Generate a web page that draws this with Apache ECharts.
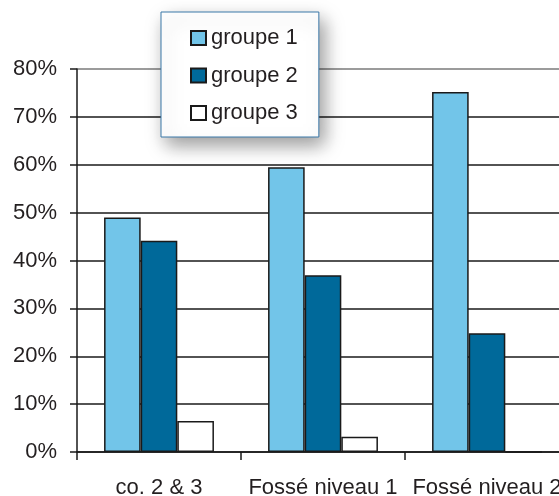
<!DOCTYPE html>
<html><head><meta charset="utf-8">
<script src="https://cdn.jsdelivr.net/npm/echarts@6/dist/echarts.min.js"></script>
<style>html,body{margin:0;padding:0;background:#fff}#c{width:559px;height:496px}</style>
</head><body><div id="c"></div>
<script>
const categories = ["co. 2 & 3", "Fossé niveau 1", "Fossé niveau 2"];
const seriesNames = ["groupe 1", "groupe 2", "groupe 3"];
const groupe1 = [49, 59.5, 75.2];
const groupe2 = [44.1, 36.9, 24.8];
const groupe3 = [6.5, 3.2, 0];
const yTicks = { min: 0, max: 80, interval: 10 };

const colors = ["#72C5E9", "#00699A", "#FFFFFF"];
const font = "'Liberation Sans', Arial, sans-serif";
const txt = "#231F20";
const chart = echarts.init(document.getElementById('c'), null, { renderer: 'canvas' });
const values = [groupe1, groupe2, groupe3];
chart.setOption({
  animation: false,
  grid: { left: 77, top: 69, width: 492, height: 383, containLabel: false, outerBoundsMode: 'none' },
  legend: {
    orient: 'vertical', left: 161, top: 12,
    padding: [15, 21, 13, 29],
    itemGap: 15.5, itemWidth: 15, itemHeight: 14, icon: 'rect',
    backgroundColor: '#fff', borderColor: '#3A78A8', borderWidth: 1,
    shadowBlur: 18, shadowColor: 'rgba(0,0,0,0.4)', shadowOffsetX: 5, shadowOffsetY: 8,
    textStyle: { fontFamily: font, fontSize: 22, lineHeight: 22, color: txt },
    data: seriesNames
  },
  xAxis: {
    type: 'category', data: categories,
    axisLine: { show: true, lineStyle: { color: '#1a1a1a', width: 1.5 } },
    axisTick: { show: true, length: 8, alignWithLabel: false, lineStyle: { color: '#1a1a1a', width: 1.5 } },
    axisLabel: { interval: 0, hideOverlap: false, margin: 25, fontFamily: font, fontSize: 22, color: txt }
  },
  yAxis: {
    type: 'value', min: yTicks.min, max: yTicks.max, interval: yTicks.interval,
    axisLine: { show: true, lineStyle: { color: '#1a1a1a', width: 1.5 } },
    axisTick: { show: true, length: 7, lineStyle: { color: '#1a1a1a', width: 1.5 } },
    axisLabel: { margin: 20, fontFamily: font, fontSize: 22, color: txt, formatter: '{value}%' },
    splitLine: { show: true, lineStyle: { color: ['#1a1a1a','#1a1a1a','#1a1a1a','#1a1a1a','#1a1a1a','#1a1a1a','#1a1a1a','#1a1a1a','#7a7a7a'], width: 1.5 } }
  },
  series: seriesNames.map((n, i) => ({
    name: n, type: 'bar', data: values[i],
    barGap: '0%', barCategoryGap: '33%',
    itemStyle: { color: colors[i], borderColor: '#1a1a1a', borderWidth: 1.5 }
  }))
});
</script></body></html>
